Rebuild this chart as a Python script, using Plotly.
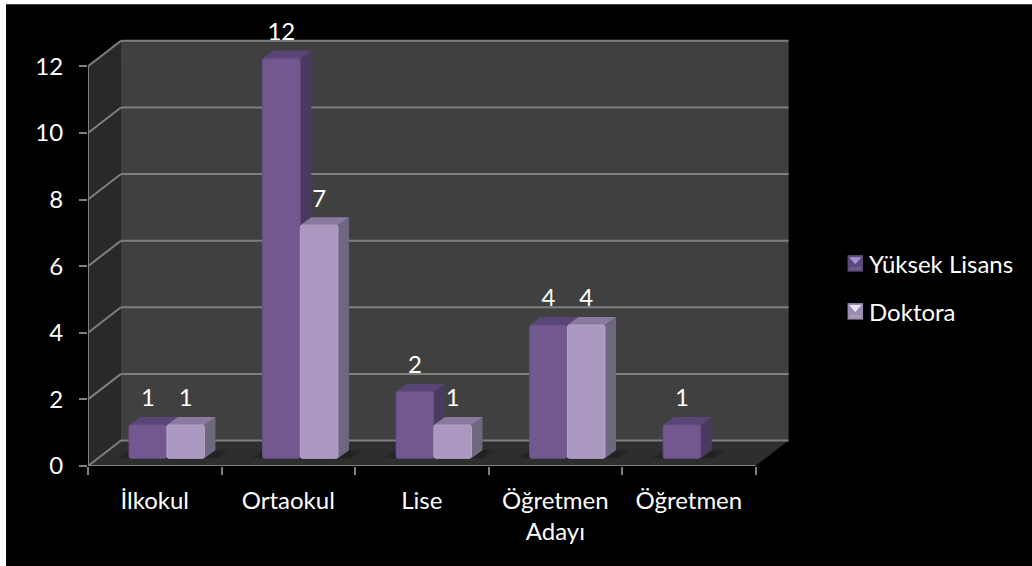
import plotly.graph_objects as go

# Chart data
categories = ["İlkokul", "Ortaokul", "Lise", "Öğretmen<br>Adayı", "Öğretmen"]
yuksek_lisans = [1, 12, 2, 4, 1]
doktora = [1, 7, 1, 4, None]
y_ticks = [0, 2, 4, 6, 8, 10, 12]

# Page and plot frame, in pixels
W, H = 1032, 566
LEFT, BOTTOM_PX = 88, 466
PX_X, PX_Y = 133.6, 33.33      # pixels per category / per unit
X_MAX, Y_MAX = 5.25, 13
TOP_PX = BOTTOM_PX - Y_MAX * PX_Y
RIGHT_PX = LEFT + X_MAX * PX_X

# Oblique projection offsets, in axis units
WALL_DX, WALL_DY = 33 / PX_X, 25.5 / PX_Y
BAR_DX, BAR_DY = 11 / PX_X, 8 / PX_Y
LIFT = 7.7 / PX_Y
BAR_W = 37.6 / PX_X
YL_OFFSET, DR_OFFSET = 0.3075, 0.5905

GRID = "#7f7f7f"
BACK_WALL, SIDE_WALL, FLOOR = "#404040", "#292929", "#2e2e2e"
YL = dict(front="#72588f", edge="#6a4f8a", side="#4a3a60", top="#5a4577")
DR = dict(front="#aa98c1", edge="#b5a5ca", side="#6f677f", top="#8a7a9f")


def poly(points, fill, **kw):
    path = "M" + " L".join(f"{x:.4f},{y:.4f}" for x, y in points) + " Z"
    return dict(type="path", path=path, xref="x", yref="y", fillcolor=fill,
                line=dict(width=0), layer="below", **kw)


def seg(x0, y0, x1, y1):
    return dict(type="line", x0=x0, y0=y0, x1=x1, y1=y1, xref="x", yref="y",
                line=dict(color=GRID, width=2), layer="below")


def px_x(p):
    return (p - LEFT) / (RIGHT_PX - LEFT)


def px_y(p):
    return (BOTTOM_PX - p) / (BOTTOM_PX - TOP_PX)


def page_rect(x0, y0, x1, y1, fill):
    return dict(type="rect", xref="paper", yref="paper", x0=px_x(x0), x1=px_x(x1),
                y0=px_y(y0), y1=px_y(y1), fillcolor=fill, line=dict(width=0), layer="below")


def page_poly(points, fill):
    path = "M" + " L".join(f"{px_x(x):.5f},{px_y(y):.5f}" for x, y in points) + " Z"
    return dict(type="path", path=path, xref="paper", yref="paper", fillcolor=fill,
                line=dict(width=0), layer="below")


shapes = [page_rect(6, 4, W + 2, H + 2, "#000000")]

# Walls and floor
shapes += [
    poly([(0, 0), (WALL_DX, WALL_DY), (WALL_DX, 12 + WALL_DY), (0, 12)], SIDE_WALL),
    poly([(WALL_DX, WALL_DY), (5 + WALL_DX, WALL_DY), (5 + WALL_DX, 12 + WALL_DY), (WALL_DX, 12 + WALL_DY)], BACK_WALL),
    poly([(0, 0), (5, 0), (5 + WALL_DX, WALL_DY), (WALL_DX, WALL_DY)], FLOOR),
]

# Gridlines run along the side wall and then the back wall
for v in y_ticks:
    shapes.append(seg(0, v, WALL_DX, v + WALL_DY))
    shapes.append(seg(WALL_DX, v + WALL_DY, 5 + WALL_DX, v + WALL_DY))
shapes.append(seg(0, 0, 0, 12))
shapes.append(seg(0, 0, 5, 0))


def add_bar_faces(values, offset, colors):
    out = []
    for i, v in enumerate(values):
        if v is None:
            continue
        x0 = i + offset
        x1 = x0 + BAR_W
        low, high = LIFT, LIFT + v
        out.append(poly([(x1, low), (x1 + BAR_DX, low + BAR_DY), (x1 + BAR_DX, high + BAR_DY), (x1, high)], colors["side"]))
        out.append(poly([(x0, high), (x1, high), (x1 + BAR_DX, high + BAR_DY), (x0 + BAR_DX, high + BAR_DY)], colors["top"]))
    return out


# Soft contact shadows on the floor, one stack per category
def add_shadows():
    out = []
    for i in range(5):
        has_dr = doktora[i] is not None
        x0 = i + YL_OFFSET
        x1 = i + (DR_OFFSET if has_dr else YL_OFFSET) + BAR_W + BAR_DX
        for spread in (14, 9, 4):
            s = spread / PX_X
            out.append(poly([(x0 - s, LIFT), (x1 + s * 0.3, LIFT), (x1 + s, LIFT + BAR_DY), (x0, LIFT + BAR_DY)],
                            "rgba(0,0,0,0.09)"))
    return out


shapes += add_shadows()
shapes += add_bar_faces(yuksek_lisans, YL_OFFSET, YL)
shapes += add_bar_faces(doktora, DR_OFFSET, DR)

# Legend swatches with their pyramid shading
for top, base, bottom, tip in [(255, "#5d4a7c", "#6f5a8f", "#a890d4"), (303, "#9a8cb0", "#a89cbc", "#ece6f5")]:
    shapes.append(page_rect(848, top, 863.5, top + 16.5, base))
    shapes.append(page_rect(850, top + 12, 861.5, top + 15, bottom))
    shapes.append(page_poly([(849.5, top + 2), (862, top + 2), (855.7, top + 9)], tip))

fig = go.Figure()

font = dict(color="white", size=24, family="Lato")

for name, values, offset, colors in [("Yüksek Lisans", yuksek_lisans, YL_OFFSET, YL),
                                     ("Doktora", doktora, DR_OFFSET, DR)]:
    xs = [i + offset + BAR_W / 2 for i in range(len(values))]
    fig.add_trace(go.Bar(
        name=name, x=xs, y=values, base=LIFT, width=BAR_W,
        marker=dict(color=colors["front"], line=dict(color=colors["edge"], width=1), cornerradius=2),
        showlegend=False, hoverinfo="name+y",
    ))
    fig.add_trace(go.Scatter(
        x=xs, y=[None if v is None else v + LIFT + BAR_DY + 0.5 for v in values],
        mode="text", text=[None if v is None else str(v) for v in values],
        textposition="middle center", textfont=font,
        cliponaxis=False, showlegend=False, hoverinfo="skip",
    ))

annotations = [
    dict(text=label, xref="paper", yref="paper", x=px_x(867), y=px_y(yc), xanchor="left", yanchor="middle",
         showarrow=False, font=font)
    for label, yc in [("Yüksek Lisans", 263), ("Doktora", 311)]
]

fig.update_layout(
    width=W, height=H, autosize=False,
    margin=dict(l=LEFT, r=W - RIGHT_PX, t=TOP_PX, b=H - BOTTOM_PX, pad=0),
    paper_bgcolor="#ffffff", plot_bgcolor="rgba(0,0,0,0)",
    barmode="overlay", showlegend=False,
    shapes=shapes, annotations=annotations,
    xaxis=dict(range=[0, X_MAX], tickmode="array", tickvals=[0, 1, 2, 3, 4, 5], ticktext=[""] * 6,
               ticks="outside", ticklen=8, tickwidth=2, tickcolor=GRID,
               showgrid=False, zeroline=False, showline=False),
    xaxis2=dict(range=[0, X_MAX], overlaying="x", anchor="y", side="bottom",
                tickmode="array", tickvals=[i + 0.5 for i in range(5)], ticktext=categories,
                ticks="", tickfont=font, tickangle=0, ticklabelstandoff=18,
                showgrid=False, zeroline=False, showline=False),
    yaxis=dict(range=[0, Y_MAX], tickmode="array", tickvals=y_ticks,
               ticks="outside", ticklen=8, tickwidth=2, tickcolor=GRID, tickfont=font,
               ticklabelstandoff=11, showgrid=False, zeroline=False, showline=False),
)

# Invisible trace keeps the category axis active
fig.add_trace(go.Scatter(x=[0.5], y=[None], xaxis="x2", yaxis="y", mode="markers",
                         showlegend=False, hoverinfo="skip"))

fig.write_html("out.html")
